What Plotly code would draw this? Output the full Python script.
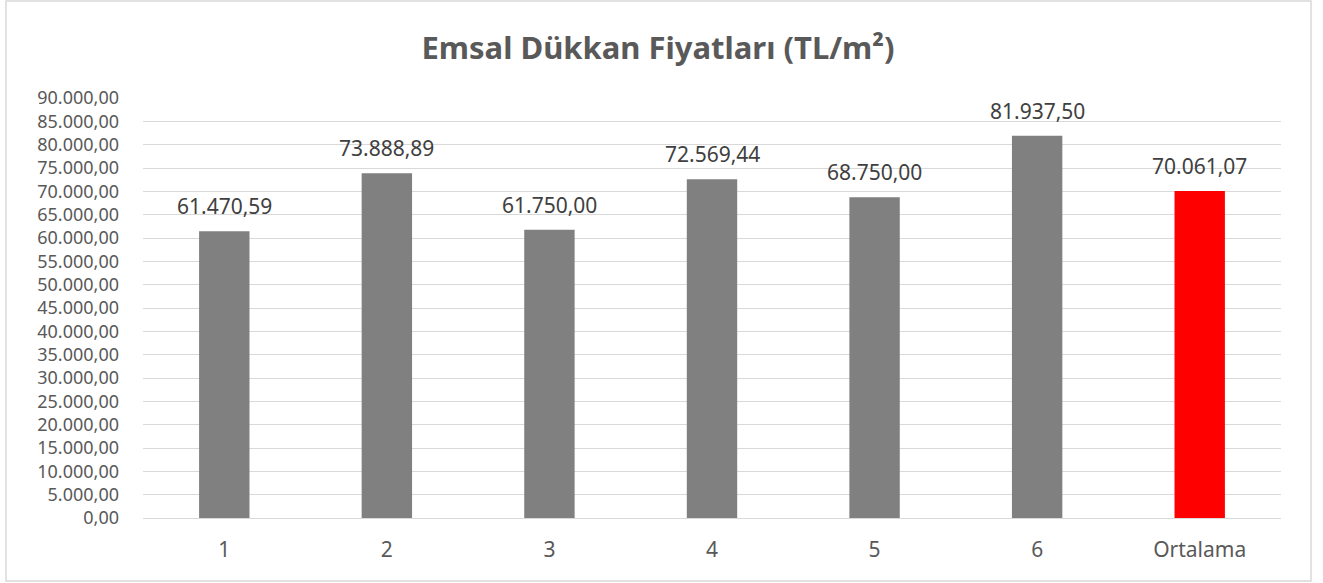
import plotly.graph_objects as go

categories = ["1", "2", "3", "4", "5", "6", "Ortalama"]
values = [61470.59, 73888.89, 61750.00, 72569.44, 68750.00, 81937.50, 70061.07]
colors = ["#808080"] * 6 + ["#FF0000"]
title = "Emsal Dükkan Fiyatları (TL/m²)"


def tr_fmt(v):
    s = f"{v:,.2f}"
    return s.replace(",", "X").replace(".", ",").replace("X", ".")


FONT = "Noto Sans"
fig = go.Figure()
fig.add_trace(go.Bar(x=categories, y=values, marker=dict(color=colors, line=dict(width=0)),
                     hoverinfo="x+y"))

for i, v in enumerate(values):
    fig.add_annotation(x=i, y=v, text=tr_fmt(v), showarrow=False, yanchor="bottom",
                       yshift=9, font=dict(family=FONT, size=21, color="#404040"))

fig.update_layout(
    width=1323, height=583,
    margin=dict(l=143, r=42, t=98, b=65),
    paper_bgcolor="white", plot_bgcolor="white",
    separators=",.",
    bargap=0.69,
    showlegend=False,
    title=dict(text=f"<b>{title}</b>", x=658 / 1323, xanchor="center", xref="container",
               y=1 - 48 / 583, yanchor="middle",
               font=dict(family=FONT, size=31, color="#595959")),
    font=dict(family=FONT, color="#595959"),
    xaxis=dict(type="category", showgrid=False, showline=True, linecolor="#d9d9d9", linewidth=1,
               ticks="", tickfont=dict(size=21, color="#595959"), ticklabelstandoff=13),
    yaxis=dict(range=[0, 90000], dtick=5000, tickformat=",.2f", showgrid=True,
               gridcolor="#d9d9d9", gridwidth=1, zeroline=False, showline=False,
               ticks="", tickfont=dict(size=18, color="#595959"), ticklabelstandoff=23),
    shapes=[dict(type="rect", xref="paper", yref="paper",
                 x0=(6 - 143) / 1138, x1=(1311 - 143) / 1138,
                 y0=(518 - 581) / 420, y1=(518 - 1) / 420,
                 line=dict(color="#d9d9d9", width=1.5), fillcolor="rgba(0,0,0,0)", layer="below")],
)

fig.write_html("out.html", config={"displayModeBar": False},
               post_script="document.body.style.margin='0px';document.body.style.overflow='hidden';")
